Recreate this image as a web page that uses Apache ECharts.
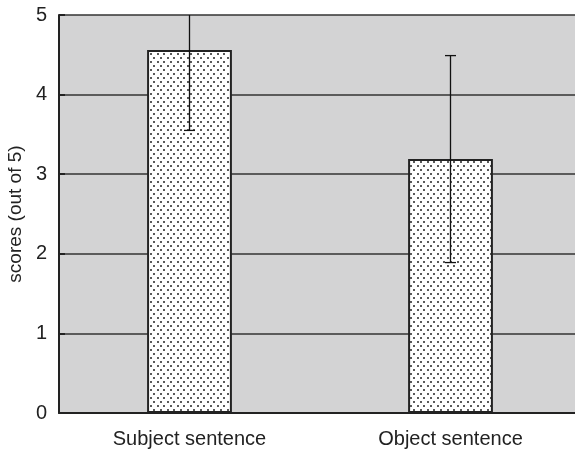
<!DOCTYPE html>
<html>
<head>
<meta charset="utf-8">
<script src="https://cdn.jsdelivr.net/npm/echarts@6/dist/echarts.min.js"></script>
<style>
  html, body { margin: 0; padding: 0; background: #fff; }
</style>
</head>
<body>
<div id="main" style="width:575px;height:453px;"></div>
<script>
  // data
  const categories = ['Subject sentence', 'Object sentence'];
  const means = [4.56, 3.19];
  const errLow = [3.55, 1.89];
  const errHigh = [5.57, 4.49];
  const yMin = 0, yMax = 5, yStep = 1;

  // dotted fill for the bars
  function dotPattern() {
    let c = document.createElement('canvas');
    c.width = 20;
    c.height = 8;
    let ctx = c.getContext('2d');
    ctx.fillStyle = '#ffffff';
    ctx.fillRect(0, 0, 20, 8);
    ctx.fillStyle = '#5a5a5a';
    for (let i = 0; i < 3; i++) {
      ctx.fillRect(Math.round(i * 6.67), 1, 2, 2);
      ctx.fillRect(Math.round(i * 6.67 + 3.33), 5, 2, 2);
    }
    return c;
  }

  let errData = [];
  for (let i = 0; i < categories.length; i++) {
    errData.push([i, errLow[i], errHigh[i]]);
  }

  let myChart = echarts.init(document.getElementById('main'));
  let option = {
    backgroundColor: '#ffffff',
    animation: false,
    textStyle: { fontFamily: 'Liberation Sans, Arial, sans-serif' },
    grid: {
      left: 59,
      top: 15,
      width: 522,
      height: 398,
      outerBoundsMode: 'none',
      containLabel: false,
      show: true,
      backgroundColor: '#d3d3d4',
      borderWidth: 0
    },
    xAxis: {
      type: 'category',
      data: categories,
      axisLine: { lineStyle: { color: '#222', width: 2 } },
      axisTick: { inside: true, length: 6, lineStyle: { color: '#333', width: 1 } },
      axisLabel: { color: '#222', fontSize: 20, margin: 16 },
      splitLine: { show: false }
    },
    yAxis: {
      type: 'value',
      min: yMin,
      max: yMax,
      interval: yStep,
      name: 'scores (out of 5)',
      nameLocation: 'middle',
      nameGap: 33,
      nameTextStyle: { color: '#222', fontSize: 19 },
      axisLine: { show: true, lineStyle: { color: '#222', width: 2 } },
      axisTick: { show: true, inside: true, length: 6, lineStyle: { color: '#222', width: 2 } },
      axisLabel: { color: '#222', fontSize: 20, margin: 12 },
      splitLine: { show: true, lineStyle: { color: '#333', width: 1.5 } }
    },
    series: [
      {
        type: 'bar',
        data: means,
        barWidth: '32.5%',
        itemStyle: {
          color: { image: dotPattern(), repeat: 'repeat' },
          borderColor: '#222',
          borderWidth: 2
        },
        z: 2
      },
      {
        type: 'custom',
        data: errData,
        z: 3,
        renderItem: function (params, api) {
          let x = api.value(0);
          let lo = api.value(1);
          let hi = api.value(2);
          let clipped = hi > yMax;
          let pLo = api.coord([x, lo]);
          let pHi = api.coord([x, Math.min(hi, yMax)]);
          let hw = 5.5;
          let style = { stroke: '#111', lineWidth: 1.3 };
          let children = [
            { type: 'line', shape: { x1: pLo[0], y1: pLo[1], x2: pHi[0], y2: pHi[1] }, style: style },
            { type: 'line', shape: { x1: pLo[0] - hw, y1: pLo[1], x2: pLo[0] + hw, y2: pLo[1] }, style: style }
          ];
          if (!clipped) {
            children.push({ type: 'line', shape: { x1: pHi[0] - hw, y1: pHi[1], x2: pHi[0] + hw, y2: pHi[1] }, style: style });
          }
          return { type: 'group', children: children };
        }
      }
    ]
  };
  myChart.setOption(option);
</script>
</body>
</html>
